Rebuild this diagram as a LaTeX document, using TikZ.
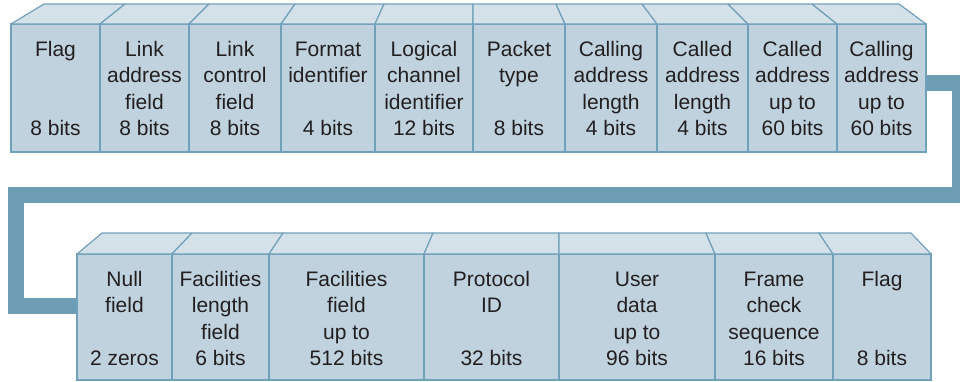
\documentclass[tikz,border=0pt]{standalone}
\usepackage{fontspec}
\setmainfont{Liberation Sans}
\usepackage{tikz}
\usetikzlibrary{backgrounds}
\definecolor{facefill}{RGB}{191,210,221}
\definecolor{topfill}{RGB}{213,225,233}
\definecolor{edgeblue}{RGB}{112,161,186}
\definecolor{linkblue}{RGB}{110,158,182}
\definecolor{textgray}{RGB}{35,31,32}
\newcommand{\fieldfont}{\fontsize{21}{26.5}\selectfont}
\tikzset{
  face/.style={rectangle, draw=edgeblue, fill=facefill, line width=1.2pt,
    inner sep=0pt, outer sep=0pt, anchor=north west},
  lid/.style={draw=edgeblue, fill=topfill, line width=1.2pt, line join=round},
  fieldname/.style={font=\fieldfont, align=center, inner sep=0pt, anchor=north, text=textgray},
  fieldbits/.style={font=\fieldfont, inner sep=0pt, anchor=base, text=textgray},
  link/.style={draw=linkblue, line width=16pt},
}

\begin{document}
\begin{tikzpicture}[x=1pt, y=-1pt]
  \useasboundingbox (0,0) rectangle (960,381);
  % upper row of the packet
  \foreach \xa/\xb/\ba/\bb/\txt/\bits [count=\i] in {
      11/100/44/125/{Flag}/{8 bits},
      100/189/125/209/{Link\\address\\field}/{8 bits},
      189/281/209/295/{Link\\control\\field}/{8 bits},
      281/375/295/384/{Format\\identifier}/{4 bits},
      375/473/384/473/{Logical\\channel\\identifier}/{12 bits},
      473/565/473/556/{Packet\\type}/{8 bits},
      565/657/556/642/{Calling\\address\\length}/{4 bits},
      657/748/642/728/{Called\\address\\length}/{4 bits},
      748/837/728/812/{Called\\address\\up to}/{60 bits},
      837/926/812/899/{Calling\\address\\up to}/{60 bits}}
  {
    \node[face, minimum width={(\xb-\xa)*1pt}, minimum height=128pt] (t\i) at (\xa,24) {};
    \draw[lid] (t\i.north west) -- (\ba,4) -- (\bb,4) -- (t\i.north east) -- cycle;
    \node[fieldname] (tn\i) at ({(\xa+\xb)/2},37.45) {\strut\txt};
    \node[fieldbits] (tb\i) at ({(\xa+\xb)/2},135.5) {\bits};
  }
  % lower row of the packet
  \foreach \xa/\xb/\ba/\bb/\txt/\bits [count=\i] in {
      77/172/102/192/{Null\\field}/{2 zeros},
      172/269/192/283/{Facilities\\length\\field}/{6 bits},
      269/424/283/433/{Facilities\\field\\up to}/{512 bits},
      424/559/433/559/{Protocol\\ID}/{32 bits},
      559/715/559/706/{User\\data\\up to}/{96 bits},
      715/833/706/819/{Frame\\check\\sequence}/{16 bits},
      833/931/819/911/{Flag}/{8 bits}}
  {
    \node[face, minimum width={(\xb-\xa)*1pt}, minimum height=126pt] (b\i) at (\xa,254) {};
    \draw[lid] (b\i.north west) -- (\ba,233) -- (\bb,233) -- (b\i.north east) -- cycle;
    \node[fieldname] (bn\i) at ({(\xa+\xb)/2},267.45) {\strut\txt};
    \node[fieldbits] (bb\i) at ({(\xa+\xb)/2},365) {\bits};
  }
  % the band that carries the packet on to the next row
  \coordinate (turnA) at (960,83);
  \coordinate (turnB) at (960,195);
  \coordinate (turnC) at (16,195);
  \coordinate (turnD) at (16,306);
  \begin{scope}[on background layer]
    \clip (0,0) rectangle (960,381);
    \draw[link] (t10.east |- turnA) -- (turnA) -- (turnB) -- (turnC) -- (turnD) -- (b1.west |- turnD);
  \end{scope}
\end{tikzpicture}
\end{document}
